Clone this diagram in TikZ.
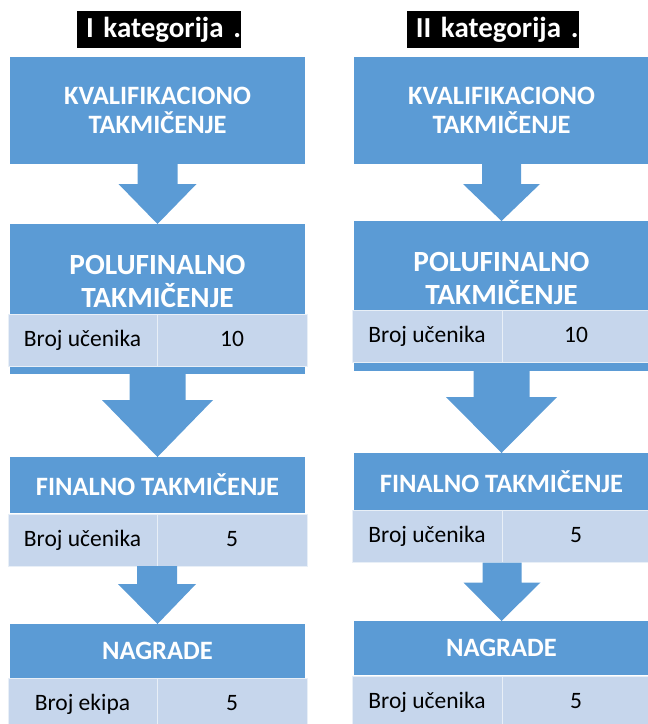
\documentclass[tikz,border=0pt]{standalone}
\usepackage{fontspec}
\setmainfont{Carlito}
\usetikzlibrary{calc,positioning}
\definecolor{stageblue}{HTML}{5B9BD5}
\definecolor{rowblue}{HTML}{C6D6EC}
\newcommand{\stagearrow}[5]{%
  \fill[stageblue] ($(#1)+(-#3,0)$) -- ($(#1)+(-#3,#5)$) -- ($(#1)+(-#4,#5)$) -- (#2)
    -- ($(#1)+(#4,#5)$) -- ($(#1)+(#3,#5)$) -- ($(#1)+(#3,0)$) -- cycle;}
\begin{document}
\begin{tikzpicture}[x=1pt, y=-1pt,
        every node/.style={inner sep=0pt, outer sep=0pt},
        heading/.style={rectangle, fill=black, text=white, align=right,
            font=\bfseries\fontsize{29}{34}\selectfont, minimum height=37pt},
        stage/.style={rectangle, fill=stageblue, text=white, align=center, minimum width=295pt,
            font=\bfseries\fontsize{26.5}{29}\selectfont},
        bigstage/.style={stage, font=\bfseries\fontsize{29.3}{33}\selectfont, text depth=35pt},
        cell/.style={rectangle, fill=rowblue, draw=white!60!rowblue, line width=0.8pt,
            font=\fontsize{23.5}{28}\selectfont, text height=17pt, text depth=5pt, minimum height=52pt}]
    \useasboundingbox (0,0) rectangle (648,724);

    \node [heading, text width=164pt] (cat1) at (159,29.5) {I kategorija .};
    \node [stage, minimum height=107pt] (kval1) at (157.5,110.5) {KVALIFIKACIONO\\TAKMIČENJE};
    \node [bigstage, minimum height=150pt] (polu1) at (157.5,299) {POLUFINALNO\\TAKMIČENJE};
    \node [cell, minimum width=149pt] (cnt1a) at (82.5,340) {Broj učenika};
    \node [cell, minimum width=150pt, right=0pt of cnt1a] (cnt1b) {10};
    \node [stage, minimum height=56pt] (fin1) at (157.5,485) {FINALNO TAKMIČENJE};
    \node [cell, minimum width=149pt] (cnt2a) at (82.5,540) {Broj učenika};
    \node [cell, minimum width=150pt, right=0pt of cnt2a] (cnt2b) {5};
    \node [stage, minimum height=54pt] (nag1) at (157.5,651) {NAGRADE};
    \node [cell, minimum width=149pt] (cnt3a) at (82.5,704) {Broj ekipa};
    \node [cell, minimum width=150pt, right=0pt of cnt3a] (cnt3b) {5};

    \node [heading, text width=172pt] (cat2) at (492.5,29.5) {II kategorija .};
    \node [stage, minimum height=107pt] (kval2) at (501.5,110.5) {KVALIFIKACIONO\\TAKMIČENJE};
    \node [bigstage, minimum height=150pt] (polu2) at (501.5,296) {POLUFINALNO\\TAKMIČENJE};
    \node [cell, minimum width=150pt] (cnt4a) at (427,336) {Broj učenika};
    \node [cell, minimum width=148pt, right=0pt of cnt4a] (cnt4b) {10};
    \node [stage, minimum height=57pt] (fin2) at (501.5,481.5) {FINALNO TAKMIČENJE};
    \node [cell, minimum width=150pt] (cnt5a) at (427,536.5) {Broj učenika};
    \node [cell, minimum width=148pt, right=0pt of cnt5a] (cnt5b) {5};
    \node [stage, minimum height=54pt] (nag2) at (501.5,648) {NAGRADE};
    \node [cell, minimum width=150pt] (cnt6a) at (427,702) {Broj učenika};
    \node [cell, minimum width=148pt, right=0pt of cnt6a] (cnt6b) {5};

    \stagearrow{kval1.south}{polu1.north}{20}{39}{20}
    \stagearrow{polu1.south}{fin1.north}{28}{55.5}{26}
    \stagearrow{cnt2a.south east}{nag1.north}{20}{39}{18}
    \stagearrow{kval2.south}{polu2.north}{19.5}{38.5}{20}
    \stagearrow{polu2.south}{fin2.north}{28}{55.5}{26}
    \stagearrow{cnt5a.south east}{nag2.north}{19.5}{38.5}{20}
\end{tikzpicture}
\end{document}
